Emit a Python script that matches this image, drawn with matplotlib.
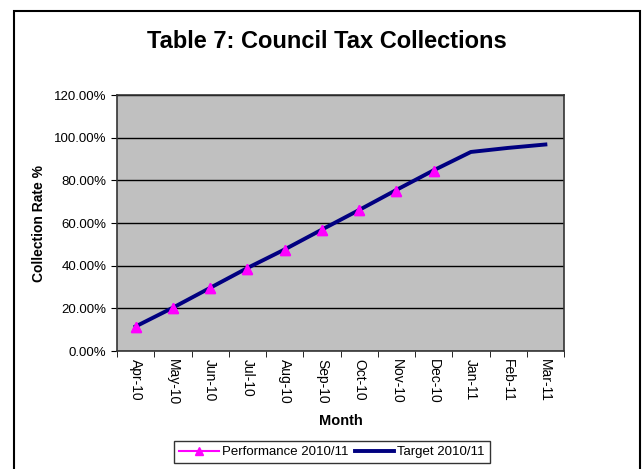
import matplotlib.pyplot as plt
from matplotlib.patches import Rectangle
from matplotlib.ticker import FuncFormatter, MultipleLocator

plt.rcParams['font.family'] = ['Liberation Sans', 'DejaVu Sans']

months = ["Apr-10", "May-10", "Jun-10", "Jul-10", "Aug-10", "Sep-10",
          "Oct-10", "Nov-10", "Dec-10", "Jan-11", "Feb-11", "Mar-11"]
performance = [11.4, 20.0, 29.4, 38.6, 47.3, 56.7, 65.9, 75.2, 84.5]
target = [11.5, 20.3, 29.6, 38.9, 47.6, 56.9, 66.1, 75.5, 84.7, 93.3, 95.2, 96.8]

W, H = 642, 469
fig = plt.figure(figsize=(W / 100, H / 100), dpi=100)

# outer chart border (runs off the bottom of the image)
fig.patches.append(Rectangle((13.5 / W, -0.05), (639.5 - 13.5) / W, 1.05 - 11.5 / H,
                             transform=fig.transFigure, fill=False,
                             edgecolor="black", linewidth=1.5))

ax = fig.add_axes([117 / W, 1 - 351 / H, (564 - 117) / W, (351 - 95) / H])
ax.set_facecolor("#c0c0c0")

x = list(range(len(months)))
xp = x[:len(performance)]
ax.plot(xp, performance, color="#ff00ff", linewidth=1.5,
        marker="^", markersize=7, label="Performance 2010/11", zorder=2)
ax.plot(x, target, color="#000080", linewidth=2.8, label="Target 2010/11", zorder=3)
# triangles sit on top of the target line
ax.plot(xp, performance, linestyle="none", color="#ff00ff",
        marker="^", markersize=7, zorder=4)

ax.set_xlim(-0.5, len(months) - 0.5)
ax.set_ylim(0, 120)
ax.yaxis.set_major_locator(MultipleLocator(20))
ax.yaxis.set_major_formatter(FuncFormatter(lambda v, p: f"{v:.2f}%"))
ax.grid(axis="y", color="black", linewidth=1)
ax.set_axisbelow(True)

ax.set_xticks(x)
ax.set_xticklabels(months, rotation=270, fontsize=10)
ax.set_xticks([i - 0.5 for i in range(len(months) + 1)], minor=True)
ax.tick_params(axis="x", which="major", length=0, pad=6)
ax.tick_params(axis="x", which="minor", length=4, direction="out")
ax.tick_params(axis="y", labelsize=9.5, length=4, direction="out")

for s in ax.spines.values():
    s.set_linewidth(1.2)
    s.set_color("#333333")

ax.set_xlabel("Month", fontsize=10.5, fontweight="bold", labelpad=6)
ax.set_ylabel("Collection Rate %", fontsize=10, fontweight="bold", labelpad=6)

fig.text(327 / W, 1 - 42 / H, "Table 7: Council Tax Collections",
         ha="center", va="center", fontsize=17, fontweight="bold")

leg = fig.legend(loc="center", bbox_to_anchor=(332 / W, 1 - 452 / H), ncol=2,
                 fontsize=9.5, frameon=True, fancybox=False, edgecolor="black",
                 handlelength=3.0, handletextpad=0.2, columnspacing=0.5,
                 borderpad=0.4, markerscale=0.8)
leg.get_frame().set_linewidth(1.0)

fig.savefig("out.png", dpi=100)
